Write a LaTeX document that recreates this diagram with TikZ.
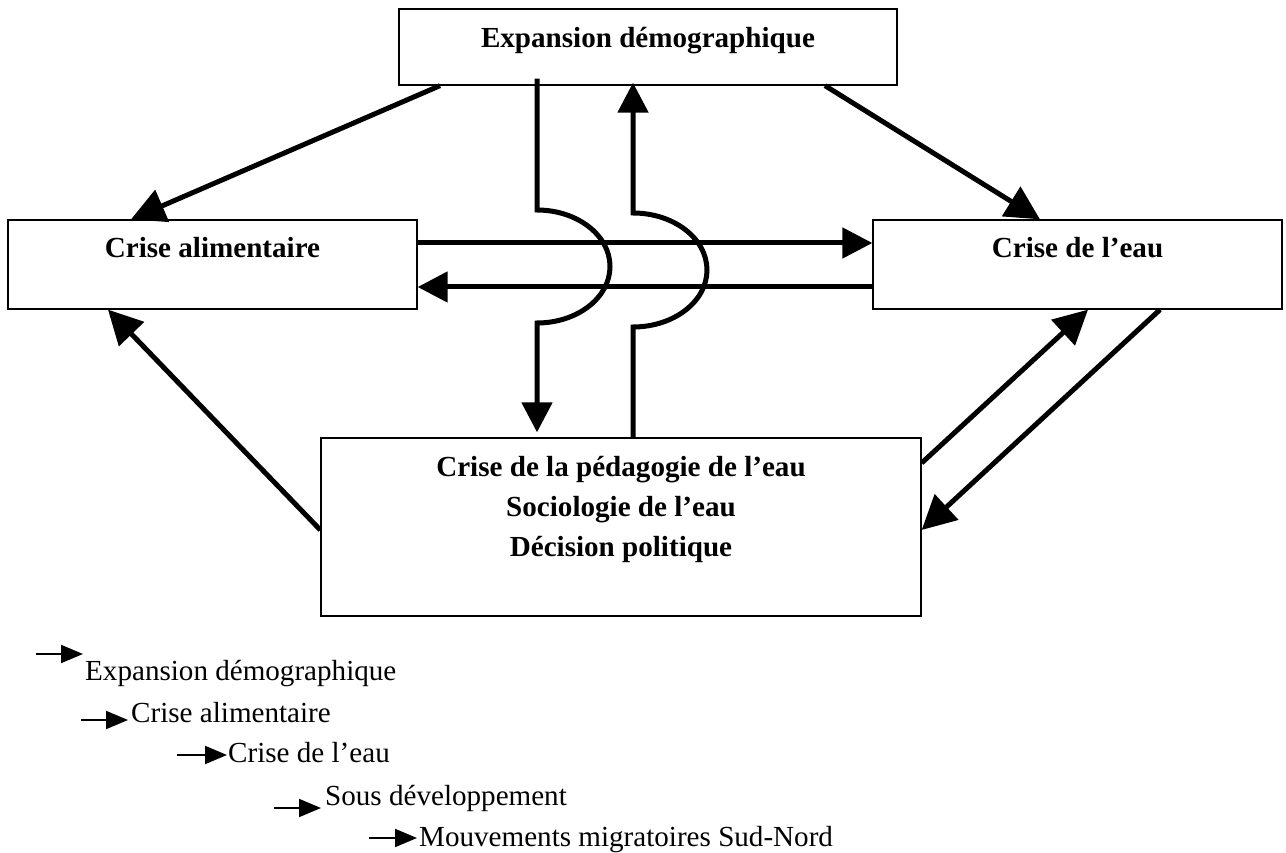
\documentclass[tikz,border=0pt]{standalone}
\usepackage{fontspec}
\setmainfont{Liberation Serif}
\usetikzlibrary{arrows.meta}
\begin{document}
\begin{tikzpicture}[x=1pt,y=-1pt,
  box/.style={draw, line width=1.3pt, inner sep=0pt, font=\bfseries\fontsize{29.1}{40}\selectfont},
  conn/.style={line width=5pt, -{Triangle[length=30pt,width=30pt]}},
  diag/.style={line width=5pt, -{Triangle[length=34pt,width=34pt]}},
  legarrow/.style={line width=2pt, -{Triangle[length=22pt,width=18pt]}},
  legtext/.style={anchor=base west, inner sep=0pt, font=\fontsize{29.1}{34}\selectfont}
]
\useasboundingbox (0,0) rectangle (1286,853);
\fill[white] (0,0) rectangle (1286,853);

% boxes
\node[box, minimum width=498pt, minimum height=76pt, text height=39pt, text depth=37pt] (eb) at (648,47) {Expansion démographique};
\node[box, minimum width=409pt, minimum height=89pt, text height=38pt, text depth=51pt] (ca) at (212.5,264.5) {Crise alimentaire};
\node[box, minimum width=409pt, minimum height=89pt, text height=38pt, text depth=51pt] (ce) at (1077.5,264.5) {Crise de l’eau};
\node[box, minimum width=600pt, minimum height=178pt, text height=38pt, text depth=140pt] (pb) at (621,527)
  {\begin{tabular}[t]{@{}c@{}}Crise de la pédagogie de l’eau\\Sociologie de l’eau\\Décision politique\end{tabular}};

% connectors
\draw[diag] ([xshift=-208pt]eb.south) -- ([xshift=-81.5pt]ca.north);
\draw[diag] ([xshift=177pt]eb.south) -- ([xshift=-37.5pt]ce.north);
\draw[conn] ([yshift=21.5pt]ca.east) -- ([yshift=21.5pt]ce.west);
\draw[conn] ([yshift=-22.5pt]ce.west) -- ([yshift=-22.5pt]ca.east);
\draw[conn] ([xshift=-111pt,yshift=7pt]eb.south) -- (537,210)
  arc[start angle=90, end angle=-90, x radius=73pt, y radius=56.5pt]
  -- ([xshift=-84pt,yshift=5pt]pb.north);
\draw[conn] ([xshift=12pt]pb.north) -- (633,327)
  arc[start angle=-90, end angle=90, x radius=74pt, y radius=57pt]
  -- ([xshift=-15pt,yshift=3pt]eb.south);
\draw[diag] ([yshift=-3pt]pb.west) -- ([xshift=-104.5pt]ca.south);
\draw[diag] ([yshift=64pt]pb.east) -- ([xshift=10.5pt]ce.south);
\draw[diag] ([xshift=82.5pt]ce.south) -- ([yshift=-3pt]pb.east);

% legend
\node[legtext] (l1) at (85,680) {Expansion démographique};
\node[legtext] (l2) at (131,722) {Crise alimentaire};
\node[legtext] (l3) at (228,762) {Crise de l’eau};
\node[legtext] (l4) at (325,805) {Sous développement};
\node[legtext] (l5) at (419,846) {Mouvements migratoires Sud-Nord};
\coordinate (a1s) at (36,654);  \coordinate (a1e) at (83,654);
\coordinate (a2s) at (81,720);  \coordinate (a2e) at (128,720);
\coordinate (a3s) at (177,755); \coordinate (a3e) at (227,755);
\coordinate (a4s) at (274,808); \coordinate (a4e) at (321,808);
\coordinate (a5s) at (369,838); \coordinate (a5e) at (417,838);
\draw[legarrow] (a1s) -- (a1e);
\draw[legarrow] (a2s) -- (a2e);
\draw[legarrow] (a3s) -- (a3e);
\draw[legarrow] (a4s) -- (a4e);
\draw[legarrow] (a5s) -- (a5e);
\end{tikzpicture}
\end{document}
